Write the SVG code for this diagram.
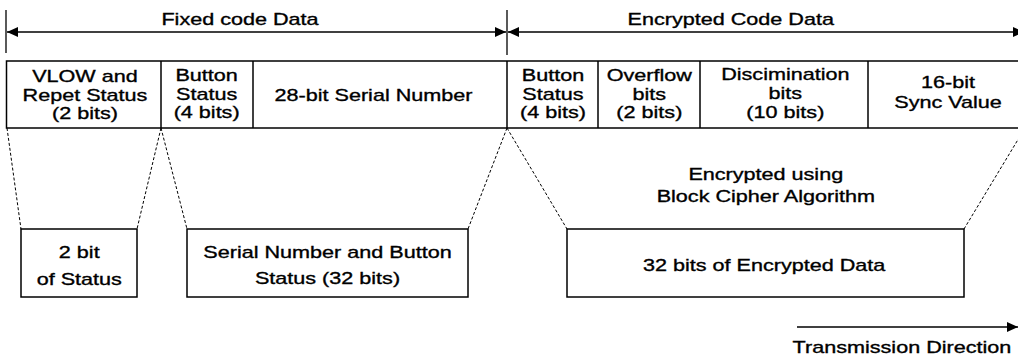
<svg xmlns="http://www.w3.org/2000/svg" width="1018" height="359" viewBox="0 0 1018 359">
<style>
text{font-family:"Liberation Sans",Arial,sans-serif;font-size:17px;fill:#000;stroke:#000;stroke-width:0.35;text-anchor:middle}
.box{fill:#fff;stroke:#000;stroke-width:1.5}
.div{stroke:#000;stroke-width:1.5}
.dim{stroke:#000;stroke-width:1.3;fill:none}
.dash{stroke:#000;stroke-width:1;stroke-dasharray:3 2;fill:none}
</style>
<defs>
<marker id="ah" viewBox="0 0 11 10" refX="11" refY="5" markerWidth="11" markerHeight="10" markerUnits="userSpaceOnUse" orient="auto-start-reverse">
<path d="M0,0 L11,5 L0,10 z" fill="#000"/>
</marker>
</defs>
<rect width="1018" height="359" fill="#fff"/>

<g id="connectors">
<line class="dim" x1="6" y1="10" x2="6" y2="53"/>
<line class="dim" x1="507" y1="10" x2="507" y2="55"/>
<line class="dim" x1="7" y1="32" x2="506" y2="32" marker-start="url(#ah)" marker-end="url(#ah)"/>
<line class="dim" x1="508" y1="32" x2="1024" y2="32" marker-start="url(#ah)" marker-end="url(#ah)"/>
<line class="dash" x1="7" y1="128" x2="21" y2="229"/>
<line class="dash" x1="161" y1="128" x2="137" y2="229"/>
<line class="dash" x1="161" y1="128" x2="187" y2="229"/>
<line class="dash" x1="507" y1="128" x2="468" y2="229"/>
<line class="dash" x1="507" y1="128" x2="567" y2="229"/>
<line class="dash" x1="1025" y1="128" x2="964" y2="229"/>
<line class="dim" x1="797" y1="327" x2="1018" y2="327" marker-end="url(#ah)"/>
</g>

<g id="labels">
<text transform="scale(1.27 1)" x="189" y="25">Fixed code Data</text>
<text transform="scale(1.27 1)" x="575.4" y="25">Encrypted Code Data</text>
<text transform="scale(1.27 1)" x="710.2" y="353">Transmission Direction</text>
<text transform="scale(1.27 1)" x="603" y="180">Encrypted using</text>
<text transform="scale(1.27 1)" x="603" y="201.7">Block Cipher Algorithm</text>
</g>

<g id="frame">
<rect class="box" x="6.5" y="61" width="1030" height="67"/>
</g>
<g id="cell-vlow">
<text transform="scale(1.27 1)" x="66.9" y="81.7">VLOW and</text>
<text transform="scale(1.27 1)" x="66.9" y="101">Repet Status</text>
<text transform="scale(1.27 1)" x="66.9" y="119.3">(2 bits)</text>
</g>
<g id="cell-button1">
<line class="div" x1="161" y1="61" x2="161" y2="128"/>
<text transform="scale(1.27 1)" x="162.7" y="81">Button</text>
<text transform="scale(1.27 1)" x="162.7" y="100">Status</text>
<text transform="scale(1.27 1)" x="162.7" y="118.5">(4 bits)</text>
</g>
<g id="cell-serial">
<line class="div" x1="253" y1="61" x2="253" y2="128"/>
<text transform="scale(1.27 1)" x="294.1" y="101">28-bit Serial Number</text>
</g>
<g id="cell-button2">
<line class="div" x1="507" y1="61" x2="507" y2="128"/>
<text transform="scale(1.27 1)" x="435.4" y="81">Button</text>
<text transform="scale(1.27 1)" x="435.4" y="100">Status</text>
<text transform="scale(1.27 1)" x="435.4" y="118.5">(4 bits)</text>
</g>
<g id="cell-overflow">
<line class="div" x1="598" y1="61" x2="598" y2="128"/>
<text transform="scale(1.27 1)" x="511.3" y="81">Overflow</text>
<text transform="scale(1.27 1)" x="511.3" y="100">bits</text>
<text transform="scale(1.27 1)" x="511.3" y="118.5">(2 bits)</text>
</g>
<g id="cell-discimination">
<line class="div" x1="700" y1="61" x2="700" y2="128"/>
<text transform="scale(1.27 1)" x="618.4" y="80.5">Discimination</text>
<text transform="scale(1.27 1)" x="618.4" y="99.5">bits</text>
<text transform="scale(1.27 1)" x="618.4" y="118.5">(10 bits)</text>
</g>
<g id="cell-sync">
<line class="div" x1="868" y1="61" x2="868" y2="128"/>
<text transform="scale(1.27 1)" x="746.5" y="88.5">16-bit</text>
<text transform="scale(1.27 1)" x="746.5" y="108">Sync Value</text>
</g>

<g id="box-status">
<rect class="box" x="21" y="229" width="116" height="68"/>
<text transform="scale(1.27 1)" x="62.4" y="258.3">2 bit</text>
<text transform="scale(1.27 1)" x="62.4" y="285">of Status</text>
</g>
<g id="box-serial">
<rect class="box" x="187" y="229" width="281" height="68"/>
<text transform="scale(1.27 1)" x="257.9" y="258.3">Serial Number and Button</text>
<text transform="scale(1.27 1)" x="257.9" y="284.5">Status (32 bits)</text>
</g>
<g id="box-encrypted">
<rect class="box" x="567" y="229" width="397" height="68"/>
<text transform="scale(1.27 1)" x="601.7" y="270.7">32 bits of Encrypted Data</text>
</g>
</svg>
